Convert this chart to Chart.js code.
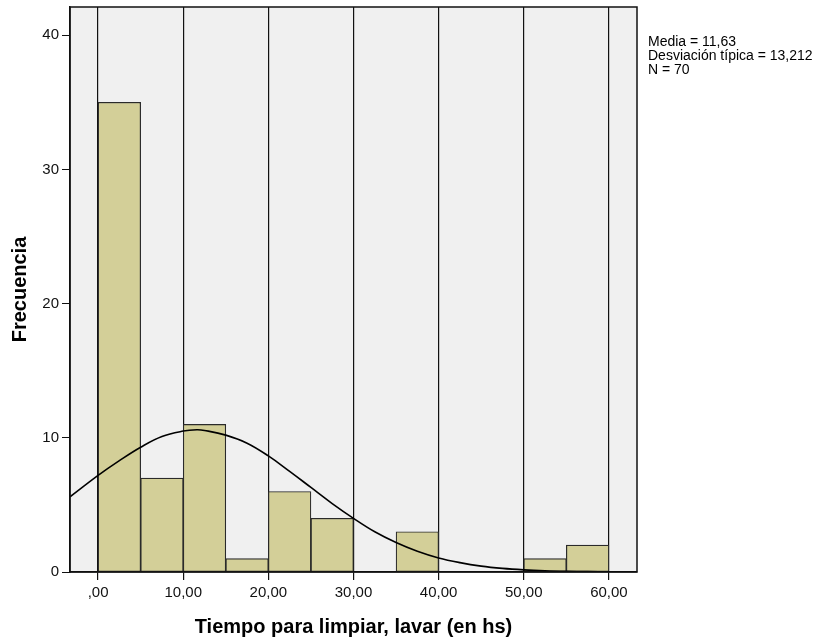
<!DOCTYPE html>
<html>
<head>
<meta charset="utf-8">
<script src="https://cdn.jsdelivr.net/npm/chart.js@4.4.1/dist/chart.umd.min.js"></script>
<style>
    html, body { margin: 0; padding: 0; background: #ffffff; }
    #histChart { display: block; }
</style>
</head>
<body>
<canvas id="histChart" width="826" height="641"></canvas>
<script>
// histogram bins (width 5), centres and counts
const binCenters = [2.5, 7.5, 12.5, 17.5, 22.5, 27.5, 32.5, 37.5, 42.5, 47.5, 52.5, 57.5];
const frequencies = [35, 7, 11, 1, 6, 4, 0, 3, 0, 0, 1, 2];

// normal curve
const curveX = [-3.3, 0, 2.5, 5, 7.5, 10, 11.6, 12.5, 15, 17.5, 20, 22.5, 25, 27.5, 30, 32.5, 35, 37.5, 40, 42.5, 45, 47.5, 50, 52.5, 55, 57.5, 60, 63.3];
const curveY = [5.6, 7.2, 8.3, 9.3, 10.1, 10.5, 10.6, 10.55, 10.2, 9.6, 8.65, 7.5, 6.3, 5.1, 4.0, 3.0, 2.2, 1.55, 1.05, 0.7, 0.44, 0.27, 0.16, 0.09, 0.05, 0.03, 0.01, 0.005];

const xTicks = [0, 10, 20, 30, 40, 50, 60];
const yTicks = [0, 10, 20, 30, 40];
const statsLines = ["Media = 11,63", "Desviación típica = 13,212", "N = 70"];

const histData = binCenters.map((c, i) => ({ x: c, y: frequencies[i] }));
const curveData = curveX.map((x, i) => ({ x: x, y: curveY[i] }));

/* grey plot background + frame + stats text */
const plotFrame = {
    id: "plotFrame",
    beforeDraw(chart) {
        const { ctx, chartArea } = chart;
        ctx.save();
        ctx.fillStyle = "#f0f0f0";
        ctx.fillRect(chartArea.left, chartArea.top, chartArea.right - chartArea.left, chartArea.bottom - chartArea.top);
        ctx.restore();
    },
    afterDraw(chart) {
        const { ctx, chartArea } = chart;
        ctx.save();
        ctx.strokeStyle = "#111111";
        ctx.lineWidth = 1.5;
        ctx.strokeRect(chartArea.left, chartArea.top, chartArea.right - chartArea.left, chartArea.bottom - chartArea.top);

        ctx.fillStyle = "#000000";
        ctx.font = "14px 'Liberation Sans', Arial, sans-serif";
        ctx.textBaseline = "middle";
        ctx.textAlign = "left";
        for (let i = 0; i < statsLines.length; i++) {
            ctx.fillText(statsLines[i], chartArea.right + 11, chartArea.top + 35 + i * 14);
        }
        ctx.restore();
    }
};

let ctx = document.getElementById("histChart");
let histChart = new Chart(ctx, {
    type: "bar",
    data: {
        datasets: [
            {
                type: "line",
                label: "Normal",
                data: curveData,
                borderColor: "#000000",
                borderWidth: 1.6,
                pointRadius: 0,
                tension: 0.4,
                fill: false,
                clip: 0,
                order: 0
            },
            {
                type: "bar",
                label: "Frecuencia",
                data: histData,
                backgroundColor: "#d3cf98",
                borderColor: "#2a2a2a",
                borderWidth: 1.2,
                borderSkipped: false,
                barPercentage: 1,
                categoryPercentage: 1,
                grouped: false,
                order: 1
            }
        ]
    },
    options: {
        responsive: false,
        animation: false,
        layout: { padding: { left: 0, right: 189, top: 7, bottom: 0 } },
        plugins: {
            legend: { display: false },
            tooltip: { enabled: false }
        },
        scales: {
            x: {
                type: "linear",
                offset: false,
                min: -3.3,
                max: 63.3,
                afterFit(scale) {
                    scale.height = 69;
                    scale.paddingLeft = 0;
                    scale.paddingRight = 0;
                },
                afterBuildTicks(scale) { scale.ticks = xTicks.map(v => ({ value: v })); },
                ticks: {
                    includeBounds: false,
                    color: "#111111",
                    padding: 4,
                    font: { family: "'Liberation Sans', Arial, sans-serif", size: 15 },
                    maxRotation: 0,
                    callback: function (value) {
                        return value === 0 ? ",00" : value + ",00";
                    }
                },
                grid: {
                    offset: false,
                    color: "#111111",
                    lineWidth: 1.2,
                    drawOnChartArea: true,
                    tickLength: 8
                },
                border: { display: true, color: "#111111", width: 1.5 },
                title: {
                    display: true,
                    text: "Tiempo para limpiar, lavar (en hs)",
                    color: "#000000",
                    font: { family: "'Liberation Sans', Arial, sans-serif", size: 20, weight: "bold" },
                    padding: { top: 0, bottom: 2 }
                }
            },
            y: {
                type: "linear",
                min: 0,
                max: 42.1,
                afterFit(scale) {
                    scale.width = 70;
                    scale.paddingTop = 0;
                    scale.paddingBottom = 0;
                },
                afterBuildTicks(scale) { scale.ticks = yTicks.map(v => ({ value: v })); },
                ticks: {
                    color: "#111111",
                    padding: 3,
                    font: { family: "'Liberation Sans', Arial, sans-serif", size: 15 }
                },
                grid: {
                    color: "#111111",
                    drawOnChartArea: false,
                    tickLength: 8
                },
                border: { display: true, color: "#111111", width: 1.5 },
                title: {
                    display: true,
                    text: "Frecuencia",
                    color: "#000000",
                    font: { family: "'Liberation Sans', Arial, sans-serif", size: 20, weight: "bold" },
                    padding: { top: 8, bottom: 0 }
                }
            }
        }
    },
    plugins: [plotFrame]
});
</script>
</body>
</html>
